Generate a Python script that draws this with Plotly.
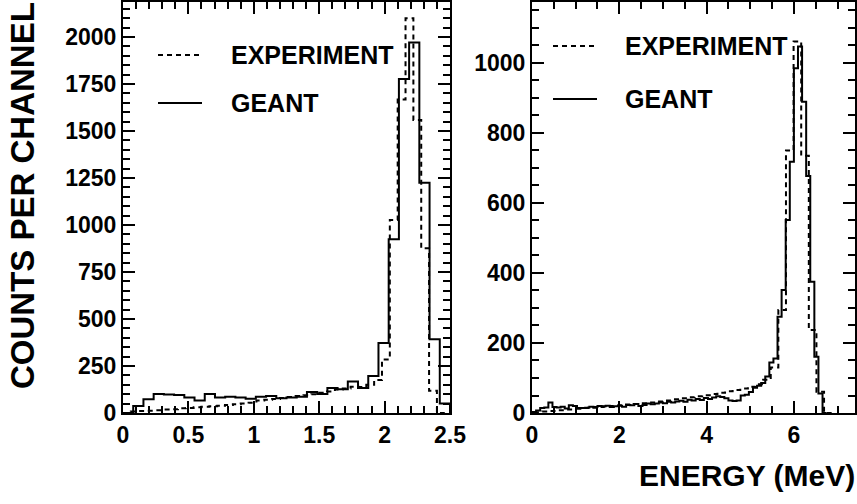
import numpy as np
import plotly.graph_objects as go

# ---- Left panel: 2.2 MeV line -------------------------------------------
# GEANT simulation, 32 channels over 0-2.5 MeV
geant_lo_width = 2.5 / 32
geant_lo = [0, 37, 73, 101, 99, 96, 83, 66, 101, 83,
            87, 83, 76, 87, 90, 78, 83, 87, 112, 101,
            133, 126, 168, 133, 197, 372, 924, 1777, 1970, 1225,
            392, 50]
# Measured spectrum, 0.06 MeV channels starting at 0
exp_lo_width = 0.06
exp_lo_offset = 0.0
exp_lo = [0, 8, 10, 12, 14, 18, 20, 25, 27, 30,
          33, 36, 38, 42, 47, 50, 55, 66, 70, 75,
          80, 85, 90, 95, 100, 108, 115, 125, 130, 140,
          138, 150, 175, 285, 1027, 1668, 2099, 1558, 876, 119,
          0]

# ---- Right panel: 6.1 MeV line ------------------------------------------
geant_hi_width = 0.09375
geant_hi = [3, 7, 14, 16, 30, 17, 16, 18, 13, 22,
            20, 14, 14, 15, 18, 17, 20, 19, 21, 17,
            19, 21, 18, 23, 22, 26, 20, 23, 27, 25,
            27, 30, 28, 32, 30, 33, 35, 32, 38, 36,
            40, 37, 43, 40, 44, 48, 46, 42, 36, 34,
            36, 50, 52, 60, 72, 78, 86, 104, 144, 156,
            275, 351, 551, 718, 985, 1047, 889, 677, 375, 161,
            56, 0]
exp_hi_width = 0.1745
exp_hi_offset = 0.06
exp_hi = [2, 4, 6, 8, 10, 12, 14, 15, 17, 18,
          20, 22, 24, 26, 28, 30, 33, 36, 39, 42,
          45, 48, 51, 54, 58, 62, 66, 70, 75, 82,
          95, 130, 294, 750, 1061, 735, 237, 61, 0]

W, H = 857, 504
FONT = "Liberation Sans"


def outline(values, width, offset=0.0):
    """Histogram outline points for an 'hv' step line."""
    n = len(values)
    edges = offset + width * np.arange(n + 1)
    xs = [edges[0]] + list(edges[:-1]) + [edges[-1]]
    ys = [0] + list(values) + [0]
    return xs, ys


DASH = "5px,4px"

fig = go.Figure()
panels = [
    ("x", "y", geant_lo, geant_lo_width, exp_lo, exp_lo_width, exp_lo_offset),
    ("x2", "y2", geant_hi, geant_hi_width, exp_hi, exp_hi_width, exp_hi_offset),
]
for xa, ya, g, gw, e, ew, eo in panels:
    ex, ey = outline(e, ew, eo)
    fig.add_trace(go.Scatter(x=ex, y=ey, mode="lines", line_shape="hv",
                             line=dict(color="black", width=2, dash=DASH),
                             name="EXPERIMENT", xaxis=xa, yaxis=ya,
                             showlegend=False))
    gx, gy = outline(g, gw)
    fig.add_trace(go.Scatter(x=gx, y=gy, mode="lines", line_shape="hv",
                             line=dict(color="black", width=2),
                             name="GEANT", xaxis=xa, yaxis=ya,
                             showlegend=False))

tickfont = dict(family=FONT, size=23, color="black", weight="bold")


def axis(rng, dtick, minor_dtick, domain, anchor):
    return dict(range=rng, dtick=dtick, tick0=0, domain=domain, anchor=anchor,
                automargin=False,
                showline=True, linecolor="black", linewidth=2,
                mirror="allticks", ticks="inside", ticklen=12, tickwidth=1.5,
                tickcolor="black", showgrid=False, zeroline=False,
                tickfont=tickfont,
                minor=dict(dtick=minor_dtick, tick0=0, ticks="inside",
                           ticklen=7, tickwidth=1.5, tickcolor="black",
                           showgrid=False))


ydom = [(H - 413) / H, (H - 2) / H]
fig.update_layout(
    width=W, height=H,
    margin=dict(l=0, r=0, t=0, b=0, autoexpand=False),
    paper_bgcolor="white", plot_bgcolor="white",
    xaxis=axis([0, 2.5], 0.5, 0.1, [123 / W, 450 / W], "y"),
    yaxis=axis([0, 2186], 250, 50, ydom, "x"),
    xaxis2=axis([0, 7.4], 2, 0.5, [532 / W, 855 / W], "y2"),
    yaxis2=axis([0, 1174], 200, 50, ydom, "x2"),
)


def px(x):
    return x / W


def py(y):
    return 1 - y / H


# legend entries drawn inside each panel
legend_rows = [
    (158, 202, 55, 229, 103),
    (553, 597, 46, 623, 99),
]
for x0, x1, y_exp, xt, y_geant in legend_rows:
    fig.add_shape(type="line", xref="paper", yref="paper",
                  x0=px(x0), x1=px(x1), y0=py(y_exp), y1=py(y_exp),
                  line=dict(color="black", width=2, dash=DASH))
    fig.add_shape(type="line", xref="paper", yref="paper",
                  x0=px(x0), x1=px(x1), y0=py(y_geant), y1=py(y_geant),
                  line=dict(color="black", width=2))
    for label, yy in (("EXPERIMENT", y_exp), ("GEANT", y_geant)):
        fig.add_annotation(text=label, xref="paper", yref="paper",
                           x=px(xt), y=py(yy), xanchor="left",
                           yanchor="middle", showarrow=False,
                           font=dict(family=FONT, size=25, color="black",
                                     weight="bold"))

fig.add_annotation(text="COUNTS PER CHANNEL", xref="paper", yref="paper",
                   x=px(23), y=py(196), textangle=-90, showarrow=False,
                   xanchor="center", yanchor="middle",
                   font=dict(family=FONT, size=33, color="black",
                             weight="bold"))
fig.add_annotation(text="ENERGY (MeV)", xref="paper", yref="paper",
                   x=px(747), y=py(475), showarrow=False,
                   xanchor="center", yanchor="middle",
                   font=dict(family=FONT, size=30, color="black",
                             weight="bold"))

fig.write_html("out.html")
